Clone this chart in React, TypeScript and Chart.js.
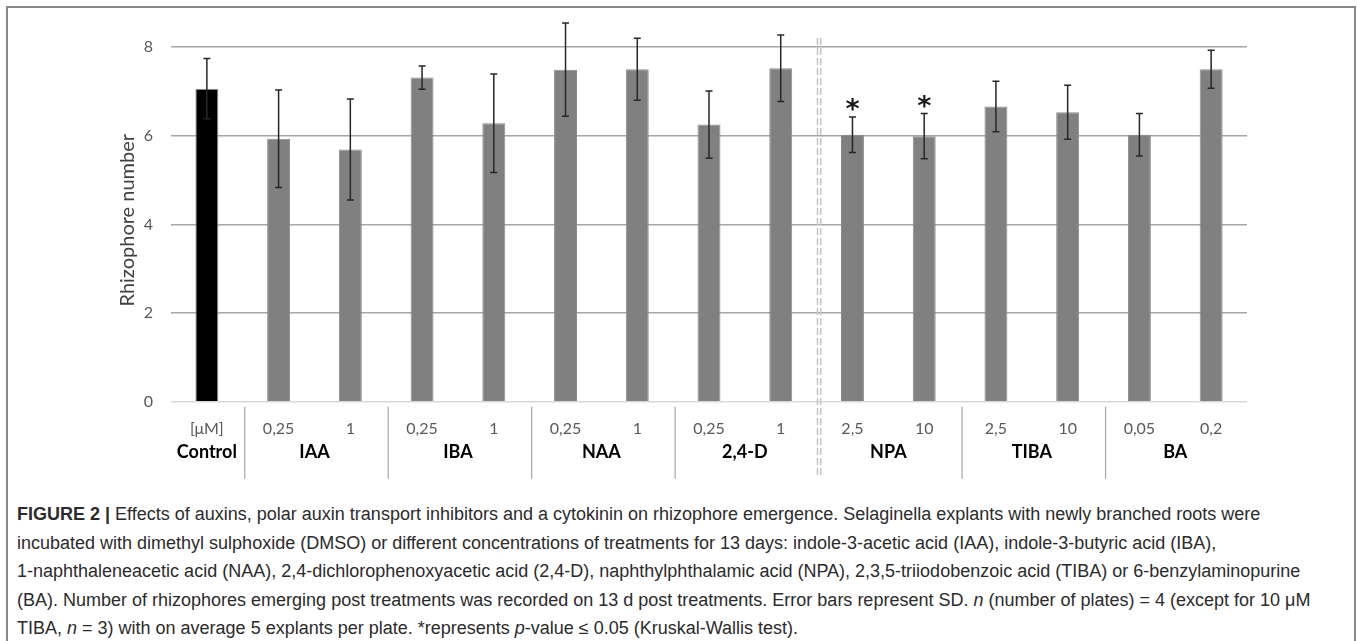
import React, { useEffect, useRef } from 'react';
import { Chart, registerables } from 'chart.js';

Chart.register(...registerables);

// ---- data ----
const concentrationLabels = ['[μM]', '0,25', '1', '0,25', '1', '0,25', '1', '0,25', '1', '2,5', '10', '2,5', '10', '0,05', '0,2'];
const groupNames = ['Control', 'IAA', 'IBA', 'NAA', '2,4-D', 'NPA', 'TIBA', 'BA'];
const groupFirstIndex = [0, 1, 3, 5, 7, 9, 11, 13];
const groupLastIndex = [0, 2, 4, 6, 8, 10, 12, 14];
const meanValues = [7.06, 5.93, 5.69, 7.31, 6.28, 7.49, 7.5, 6.25, 7.52, 6.02, 5.99, 6.66, 6.53, 6.02, 7.5];
const sdValues = [0.68, 1.1, 1.14, 0.26, 1.11, 1.05, 0.7, 0.76, 0.75, 0.4, 0.51, 0.57, 0.61, 0.48, 0.43];
const significantFlags = [false, false, false, false, false, false, false, false, false, true, true, false, false, false, false];
const yTickValues = [0, 2, 4, 6, 8];
const yTickLabels = ['0', '2', '4', '6', '8'];
const dashedDividerAfter = 8;
const yAxisTitle = 'Rhizophore number';

const overlayPlugin = {
  id: 'overlay',
  afterDatasetsDraw(chart: any) {
    const ctx = chart.ctx;
    const xs = chart.scales.x;
    const ys = chart.scales.y;
    const area = chart.chartArea;
    const step = xs.getPixelForValue(1) - xs.getPixelForValue(0);
    ctx.save();

    // y tick labels
    ctx.font = '16px Lato';
    ctx.fillStyle = '#595959';
    ctx.textAlign = 'right';
    ctx.textBaseline = 'middle';
    yTickValues.forEach((v, i) => {
      ctx.fillText(yTickLabels[i], area.left - 18, ys.getPixelForValue(v));
    });

    // error bars + significance marks
    meanValues.forEach((m, i) => {
      const px = xs.getPixelForValue(i);
      const top = ys.getPixelForValue(m + sdValues[i]);
      const bot = ys.getPixelForValue(m - sdValues[i]);
      ctx.strokeStyle = '#262626';
      ctx.lineWidth = 1.5;
      ctx.beginPath();
      ctx.moveTo(px, top);
      ctx.lineTo(px, bot);
      ctx.moveTo(px - 3.5, top);
      ctx.lineTo(px + 3.5, top);
      ctx.moveTo(px - 3.5, bot);
      ctx.lineTo(px + 3.5, bot);
      ctx.stroke();
      if (significantFlags[i]) {
        ctx.font = 'bold 27px "DejaVu Sans"';
        ctx.textAlign = 'center';
        ctx.textBaseline = 'middle';
        ctx.fillStyle = '#1a1a1a';
        ctx.fillText('*', px, top - 6);
      }
    });

    // group separators
    ctx.strokeStyle = '#a6a6a6';
    ctx.lineWidth = 1.2;
    groupLastIndex.forEach((last, g) => {
      if (g === groupLastIndex.length - 1 || last === dashedDividerAfter) return;
      const bx = xs.getPixelForValue(last) + step / 2 + 2;
      ctx.beginPath();
      ctx.moveTo(bx, area.bottom + 5);
      ctx.lineTo(bx, area.bottom + 77);
      ctx.stroke();
    });

    // dashed double divider
    const dx = xs.getPixelForValue(dashedDividerAfter) + step / 2 + 2.5;
    ctx.strokeStyle = '#c4c4c4';
    ctx.lineWidth = 1.5;
    ctx.setLineDash([7, 3]);
    [-1.6, 1.6].forEach((off) => {
      ctx.beginPath();
      ctx.moveTo(dx + off, ys.getPixelForValue(8) - 9);
      ctx.lineTo(dx + off, area.bottom + 76);
      ctx.stroke();
    });
    ctx.setLineDash([]);

    // concentration labels
    ctx.textAlign = 'center';
    ctx.textBaseline = 'middle';
    ctx.font = '16px Lato';
    ctx.fillStyle = '#595959';
    concentrationLabels.forEach((lab, i) => {
      ctx.fillText(lab, xs.getPixelForValue(i), area.bottom + 27);
    });

    // group labels
    ctx.font = 'bold 18px Lato';
    ctx.fillStyle = '#000000';
    groupNames.forEach((name, g) => {
      const cx = (xs.getPixelForValue(groupFirstIndex[g]) + xs.getPixelForValue(groupLastIndex[g])) / 2;
      ctx.fillText(name, cx, area.bottom + 50);
    });

    // y axis title
    ctx.save();
    ctx.translate(128, (area.top + area.bottom) / 2 + 18);
    ctx.rotate(-Math.PI / 2);
    ctx.font = '20px Lato';
    ctx.fillStyle = '#404040';
    ctx.textAlign = 'center';
    ctx.textBaseline = 'middle';
    ctx.fillText(yAxisTitle, 0, 0);
    ctx.restore();

    ctx.restore();
  },
};

export default function App() {
  const canvasRef = useRef<HTMLCanvasElement | null>(null);

  useEffect(() => {
    if (!canvasRef.current) return;
    const chart = new Chart(canvasRef.current, {
      type: 'bar',
      data: {
        labels: concentrationLabels,
        datasets: [
          {
            data: meanValues,
            backgroundColor: meanValues.map((_, i) => (i === 0 ? '#000000' : '#808080')),
            borderColor: meanValues.map((_, i) => (i === 0 ? '#9a9a9a' : '#8c8c8c')),
            borderWidth: 1,
            barPercentage: 0.32,
            categoryPercentage: 1,
          },
        ],
      },
      options: {
        responsive: false,
        animation: false,
        devicePixelRatio: 1,
        layout: { padding: { left: 0, top: 2.7, right: 110, bottom: 88.3 } },
        plugins: { legend: { display: false }, tooltip: { enabled: false } },
        scales: {
          x: { display: false },
          y: {
            min: 0,
            max: 9,
            afterBuildTicks: (scale: any) => {
              scale.ticks = yTickValues.map((v) => ({ value: v }));
            },
            afterFit: (scale: any) => {
              scale.width = 171;
              scale.paddingTop = 0;
              scale.paddingBottom = 0;
            },
            border: { display: false },
            grid: {
              drawTicks: false,
              lineWidth: 1.5,
              color: (c: any) => (c.tick && c.tick.value === 0 ? '#d9d9d9' : '#a6a6a6'),
            },
            ticks: { display: false },
          },
        },
      },
      plugins: [overlayPlugin],
    } as any);
    return () => chart.destroy();
  }, []);

  const capStyle: React.CSSProperties = {
    height: 28.5,
    lineHeight: '28.5px',
    whiteSpace: 'nowrap',
  };

  return (
    <div style={{ position: 'absolute', left: 0, top: 0, width: 1357, height: 641, background: '#fff', overflow: 'hidden' }}>
      <div
        style={{
          position: 'absolute',
          left: 6,
          top: 6,
          width: 1350,
          height: 700,
          boxSizing: 'border-box',
          border: '2px solid #888888',
        }}
      />
      <canvas ref={canvasRef} width={1357} height={490} style={{ position: 'absolute', left: 0, top: 0, width: 1357, height: 490 }} />
      <div
        style={{
          position: 'absolute',
          left: 17,
          top: 500,
          fontFamily: '"Liberation Sans", Arial, sans-serif',
          fontSize: 18,
          color: '#2b2b2b',
        }}
      >
        <div style={capStyle}>
          <b>FIGURE 2 |</b> Effects of auxins, polar auxin transport inhibitors and a cytokinin on rhizophore emergence. Selaginella explants with newly branched roots were
        </div>
        <div style={capStyle}>
          incubated with dimethyl sulphoxide (DMSO) or different concentrations of treatments for 13 days: indole-3-acetic acid (IAA), indole-3-butyric acid (IBA),
        </div>
        <div style={capStyle}>
          1-naphthaleneacetic acid (NAA), 2,4-dichlorophenoxyacetic acid (2,4-D), naphthylphthalamic acid (NPA), 2,3,5-triiodobenzoic acid (TIBA) or 6-benzylaminopurine
        </div>
        <div style={capStyle}>
          (BA). Number of rhizophores emerging post treatments was recorded on 13 d post treatments. Error bars represent SD. <i>n</i> (number of plates) = 4 (except for 10 μM
        </div>
        <div style={capStyle}>
          TIBA, <i>n</i> = 3) with on average 5 explants per plate. *represents <i>p</i>-value ≤ 0.05 (Kruskal-Wallis test).
        </div>
      </div>
    </div>
  );
}
